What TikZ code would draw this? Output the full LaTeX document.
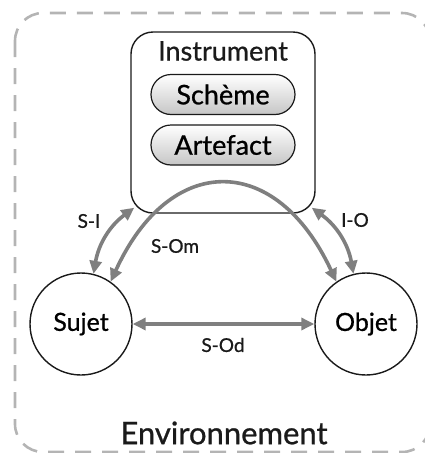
\documentclass[tikz,border=0pt]{standalone}
\usepackage{fontspec}
\setmainfont{Lato}[FakeBold=0.8]
\usetikzlibrary{arrows.meta,shapes.misc}
\definecolor{relgray}{HTML}{7F7F7F}
\definecolor{bordergray}{HTML}{B4B4B4}
\definecolor{ink}{HTML}{1A1A1A}
\tikzset{
  rel/.style={draw=relgray, line width=3.6pt,
    {Triangle[length=13pt,width=12pt]}-{Triangle[length=13pt,width=12pt]}},
  pole/.style={circle, draw=ink, line width=1.4pt, minimum size=102pt, inner sep=0pt,
    font=\fontsize{25}{28}\selectfont},
  pill/.style={rounded rectangle, draw=ink, line width=1.2pt, minimum width=144pt,
    minimum height=40pt, inner sep=0pt, top color=white, bottom color=gray!45,
    font=\fontsize{27}{30}\selectfont},
  lab/.style={font=\fontsize{19}{22}\selectfont, text=ink, inner sep=0pt},
}
\begin{document}
\begin{tikzpicture}[x=1pt,y=-1pt]
\useasboundingbox (0,0) rectangle (425,453);
% environment border
\draw[bordergray, line width=2.6pt, dash pattern=on 16pt off 11pt, rounded corners=28pt]
  (15,13) rectangle (430,452);
\node[text=ink, font=\fontsize{31}{34}\selectfont, inner sep=0pt] (env) at (224,433) {Environnement};
% instrument
\node[draw=ink, line width=1.4pt, rounded corners=22pt, minimum width=184pt,
  minimum height=181pt, inner sep=0pt] (instr) at (223,122.5) {};
\node[text=ink, font=\fontsize{27}{30}\selectfont, inner sep=0pt] (instrlab) at (223,51) {Instrument};
\node[pill] (scheme) at (223,94.5) {Schème};
\node[pill] (artefact) at (223,145) {Artefact};
% poles
\node[pole] (sujet) at (81,324) {Sujet};
\node[pole] (objet) at (366,324) {Objet};
\coordinate (isw) at ([shift={(4,-6)}]instr.south west);
\coordinate (ise) at ([shift={(-4,-6)}]instr.south east);
% relations
\draw[rel] (sujet.55) .. controls (170,152) and (276,152) .. (objet.125);
\draw[rel] (sujet.76) to[bend left=22] (isw);
\draw[rel] (ise) to[bend left=22] (objet.104);
\draw[rel] (sujet) -- (objet);
% labels
\node[lab] (lsi) at (89,221) {S-I};
\node[lab] (lio) at (355,220) {I-O};
\node[lab] (lsom) at (175,246) {S-Om};
\node[lab] (lsod) at (223,345) {S-Od};
\end{tikzpicture}
\end{document}
